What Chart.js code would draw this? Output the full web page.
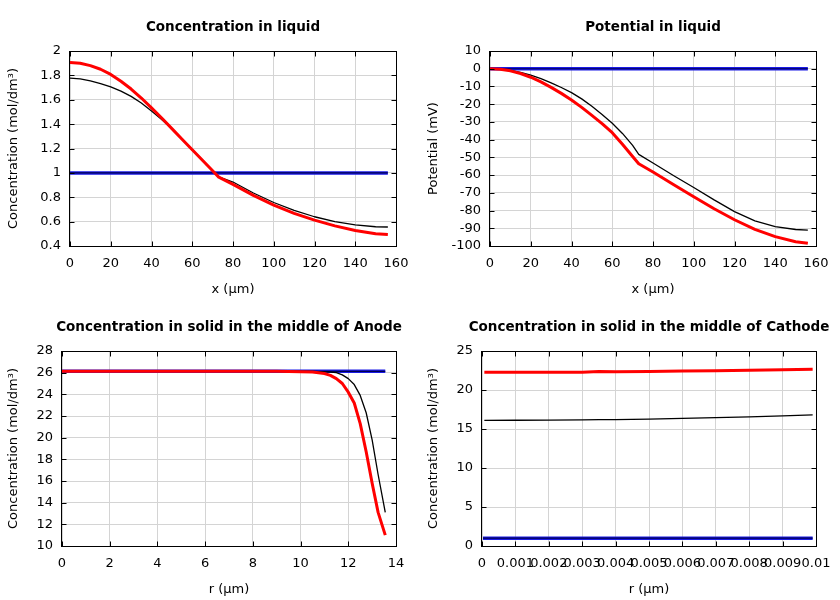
<!DOCTYPE html>
<html><head><meta charset="utf-8">
<script src="https://cdn.jsdelivr.net/npm/chart.js@4/dist/chart.umd.min.js"></script>
<style>
html,body{margin:0;padding:0;background:#fff;overflow:hidden;}
#wrap{position:relative;width:840px;height:600px;background:#fff;overflow:hidden;}
canvas{position:absolute;}
</style></head><body>
<div id="wrap">
<canvas id="c1" width="466" height="300" style="left:0;top:0"></canvas>
<canvas id="c2" width="466" height="300" style="left:420px;top:0"></canvas>
<canvas id="c3" width="458" height="300" style="left:0;top:300px"></canvas>
<canvas id="c4" width="458" height="300" style="left:420px;top:300px"></canvas>
</div>
<script>
// ---- Concentration in liquid / Potential in liquid ----
const liqX     = [0,5,10,15,20,25,30,35,40,45,50,55,60,65,70,73,80,90,100,110,120,130,140,150,156];
const liqRed   = [1.905,1.899,1.880,1.850,1.808,1.752,1.688,1.614,1.533,1.450,1.363,1.276,1.190,1.104,1.018,0.965,0.905,0.815,0.735,0.668,0.612,0.565,0.527,0.500,0.494];
const liqBlack = [1.778,1.772,1.755,1.733,1.706,1.671,1.628,1.573,1.508,1.437,1.362,1.275,1.190,1.105,1.020,0.968,0.925,0.835,0.757,0.692,0.640,0.600,0.573,0.558,0.556];
const liqBlueX = [0,156];
const liqBlue  = [1.0,1.0];
const potRed   = [0,-0.3,-1.2,-2.7,-4.8,-7.4,-10.5,-13.9,-17.6,-21.8,-26.3,-31.0,-36.1,-42.6,-49.5,-53.6,-58.3,-65.3,-72.2,-79.0,-85.2,-90.6,-94.7,-97.6,-98.5];
const potBlack = [0,-0.2,-0.9,-2.1,-3.6,-5.6,-8.0,-10.6,-13.5,-17.0,-21.2,-25.8,-30.8,-36.5,-43.2,-48.3,-53.2,-60.2,-67.0,-74.0,-80.6,-85.8,-89.1,-90.7,-91.0];
const potBlue  = [0,0];
// ---- Anode solid ----
const anodeR     = [0,1,2,3,4,5,6,7,8,9,9.5,10,10.5,11,11.25,11.5,11.75,12,12.25,12.5,12.75,13,13.25,13.55];
const anodeRed   = [26.12,26.12,26.12,26.12,26.12,26.12,26.12,26.12,26.12,26.12,26.11,26.09,26.06,25.92,25.75,25.45,25.0,24.2,23.2,21.3,18.7,15.8,13.1,11.0];
const anodeBlack = [26.12,26.12,26.12,26.12,26.12,26.12,26.12,26.12,26.12,26.12,26.12,26.12,26.11,26.08,26.05,26.0,25.8,25.45,24.9,23.9,22.3,19.8,16.6,13.1];
const anodeBlueR = [0,13.55];
const anodeBlue  = [26.12,26.12];
// ---- Cathode solid ----
const cathR     = [0.00007,0.001,0.002,0.003,0.0035,0.004,0.005,0.006,0.007,0.008,0.009,0.0099];
const cathRed   = [22.27,22.27,22.28,22.29,22.38,22.33,22.38,22.43,22.48,22.53,22.60,22.65];
const cathBlack = [16.11,16.12,16.14,16.17,16.19,16.21,16.27,16.35,16.45,16.56,16.69,16.80];
const cathBlueR = [0.00003,0.0099];
const cathBlue  = [1.0,1.0];
// ---- Tick values ----
const liqXTicks   = [0,20,40,60,80,100,120,140,160];
const liqYTicks   = [0.4,0.6,0.8,1,1.2,1.4,1.6,1.8,2];
const potYTicks   = [-100,-90,-80,-70,-60,-50,-40,-30,-20,-10,0,10];
const anodeXTicks = [0,2,4,6,8,10,12,14];
const anodeYTicks = [10,12,14,16,18,20,22,24,26,28];
const cathXTicks  = [0,0.001,0.002,0.003,0.004,0.005,0.006,0.007,0.008,0.009,0.01];
const cathYTicks  = [0,5,10,15,20,25];

Chart.defaults.font.family = "'DejaVu Sans', sans-serif";
Chart.defaults.font.size = 13;
Chart.defaults.color = '#000';

const frame = {
  id: 'frame',
  afterDraw(chart) {
    const {ctx, chartArea: a, scales: {x, y}} = chart;
    const L = Math.round(a.left) - 0.5, R = Math.round(a.right) + 0.5;
    const T = Math.round(a.top) + 0.5, B = Math.round(a.bottom) + 0.5;
    ctx.save();
    ctx.strokeStyle = '#000';
    ctx.lineWidth = 1;
    ctx.beginPath();
    x.ticks.forEach(t => {
      const p = Math.round(x.getPixelForValue(t.value)) + 0.5;
      ctx.moveTo(p, B); ctx.lineTo(p, B - 5);
      ctx.moveTo(p, T); ctx.lineTo(p, T + 5);
    });
    y.ticks.forEach(t => {
      const p = Math.round(y.getPixelForValue(t.value)) + 0.5;
      ctx.moveTo(L, p); ctx.lineTo(L + 5, p);
      ctx.moveTo(R, p); ctx.lineTo(R - 5, p);
    });
    ctx.stroke();
    ctx.strokeRect(L, T, R - L, B - T);
    ctx.restore();
  }
};

function pts(xs, ys) { return xs.map((v, i) => ({x: v, y: ys[i]})); }

function makeChart(id, o) {
  const datasets = [
    {data: pts(o.x, o.red), borderColor: '#ff0000', borderWidth: 3},
    {data: pts(o.x, o.black), borderColor: '#000000', borderWidth: 1.3},
    {data: pts(o.bx, o.blue), borderColor: '#000050', borderWidth: 1.2},
    {data: pts(o.bx, o.blue), borderColor: '#1a1ae6', borderWidth: 3.5}
  ].map(d => Object.assign(d, {pointRadius: 0, fill: false, tension: 0, borderJoinStyle: 'round'}));
  const axis = (ticksArr, min, max, title, fitFn, isX) => ({
    type: 'linear', min: min, max: max,
    afterBuildTicks: s => { s.ticks = ticksArr.map(v => ({value: v})); },
    afterFit: fitFn,
    ticks: {autoSkip: false, maxRotation: 0, minRotation: 0, padding: isX ? 10 : 9,
            callback: v => String(v), color: '#000', font: {size: 13}},
    grid: {color: '#d4d4d4', drawTicks: false},
    border: {display: false},
    title: {display: true, text: title, color: '#000', font: {size: 13},
            padding: isX ? {top: 0, bottom: 3} : {top: 6, bottom: 0}}
  });
  return new Chart(document.getElementById(id), {
    type: 'line',
    data: {datasets},
    options: {
      responsive: false, animation: false, devicePixelRatio: 1,
      layout: {padding: 0},
      scales: {
        x: axis(o.xt, o.xmin, o.xmax, o.xtitle, s => { s.height = 54; }, true),
        y: axis(o.yt, o.ymin, o.ymax, o.ytitle, s => { s.width = o.yw; }, false),
        // empty spacer on the right so the plot sits where the reference has it
        spacer: {type: 'linear', position: 'right', display: true, min: 0, max: 1,
                 ticks: {display: false}, grid: {display: false}, border: {display: false},
                 afterFit: s => { s.width = o.pr; }}
      },
      plugins: {
        legend: {display: false}, tooltip: {enabled: false},
        title: {display: true, text: o.title, color: '#000',
                font: {size: 13.5, weight: 'bold'}, padding: {top: 19, bottom: 15.8}}
      }
    },
    plugins: [frame]
  });
}

makeChart('c1', {x: liqX, red: liqRed, black: liqBlack, bx: liqBlueX, blue: liqBlue,
  xt: liqXTicks, yt: liqYTicks, xmin: 0, xmax: 160, ymin: 0.4, ymax: 2, yw: 70, pr: 70,
  xtitle: 'x (µm)', ytitle: 'Concentration (mol/dm³)', title: 'Concentration in liquid'});
makeChart('c2', {x: liqX, red: potRed, black: potBlack, bx: liqBlueX, blue: potBlue,
  xt: liqXTicks, yt: potYTicks, xmin: 0, xmax: 160, ymin: -100, ymax: 10, yw: 70, pr: 70,
  xtitle: 'x (µm)', ytitle: 'Potential (mV)', title: 'Potential in liquid'});
makeChart('c3', {x: anodeR, red: anodeRed, black: anodeBlack, bx: anodeBlueR, blue: anodeBlue,
  xt: anodeXTicks, yt: anodeYTicks, xmin: 0, xmax: 14, ymin: 10, ymax: 28, yw: 62, pr: 62,
  xtitle: 'r (µm)', ytitle: 'Concentration (mol/dm³)', title: 'Concentration in solid in the middle of Anode'});
makeChart('c4', {x: cathR, red: cathRed, black: cathBlack, bx: cathBlueR, blue: cathBlue,
  xt: cathXTicks, yt: cathYTicks, xmin: 0, xmax: 0.01, ymin: 0, ymax: 25, yw: 62, pr: 62,
  xtitle: 'r (µm)', ytitle: 'Concentration (mol/dm³)', title: 'Concentration in solid in the middle of Cathode'});
</script>
</body></html>
